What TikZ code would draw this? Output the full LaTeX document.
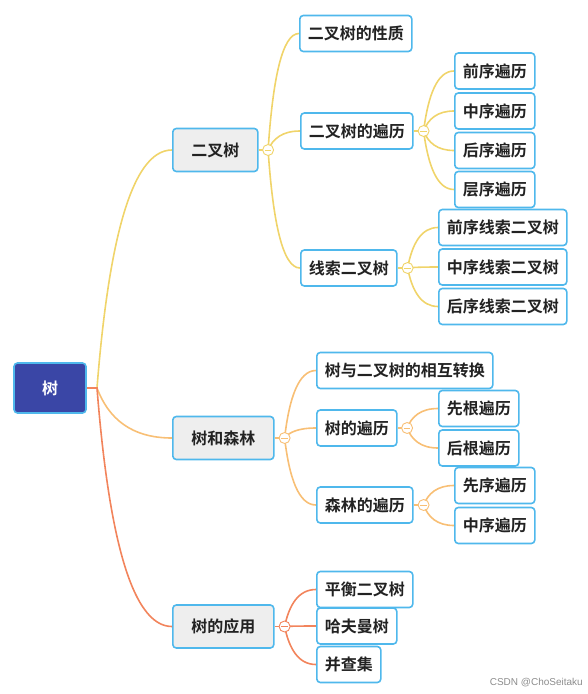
\documentclass[tikz,border=0pt]{standalone}
\usepackage{fontspec}
\setmainfont{Noto Sans CJK SC}[BoldFont={Noto Sans CJK SC Bold}]
\newfontfamily\wmfont{Liberation Sans}
\usetikzlibrary{calc,backgrounds}
\definecolor{bord}{HTML}{4FB8EC}
\definecolor{rootfill}{HTML}{3A46A6}
\definecolor{lvone}{HTML}{EEEEEE}
\definecolor{cyel}{HTML}{F0D46A}
\definecolor{cora}{HTML}{F8BF75}
\definecolor{cred}{HTML}{F2845C}
\definecolor{txt}{HTML}{222222}
\tikzset{
 box/.style={draw=bord, line width=1.6pt, rounded corners=3.5pt, fill=white,
   font=\fontsize{16}{18}\selectfont\bfseries, inner xsep=8pt, inner ysep=0pt,
   minimum height=36pt, anchor=west, text=txt},
 lone/.style={box, fill=lvone, inner xsep=18.5pt, minimum height=43pt},
 rootbox/.style={box, fill=rootfill, text=white, minimum width=72pt, minimum height=50pt, anchor=center},
 branch/.style={to path={let \p1=(\tikztostart), \p2=(\tikztotarget) in
   .. controls ({\x1+0.15*(\x2-\x1)},{\y1+0.6*(\y2-\y1)}) and ({\x1+0.45*(\x2-\x1)},{\y2}) .. (\tikztotarget)}},
 conn/.style={line width=1.6pt},
 fold/.style={circle, draw=#1, fill=white, line width=0.9pt, minimum size=11pt, inner sep=0pt,
   path picture={\draw[#1, line width=0.7pt] ([xshift=-3.2pt]path picture bounding box.center) -- ([xshift=3.2pt]path picture bounding box.center);}}
}
\begin{document}
\begin{tikzpicture}[x=1pt,y=-1pt]
\useasboundingbox (0,0) rectangle (587,694);
% root
\node[rootbox] (root) at (50,388) {树};
\coordinate (j) at (97,388);
% level 1
\node[lone] (bt) at (172,150) {二叉树};
\node[lone] (sl) at (172,438) {树和森林};
\node[lone] (yy) at (172,626.5) {树的应用};
\node[fold=cyel] (cbt) at ($(bt.east)+(9.5,0)$) {};
\node[fold=cora] (csl) at ($(sl.east)+(10,0)$) {};
\node[fold=cred] (cyy) at ($(yy.east)+(10,0)$) {};
% level 2 under 二叉树
\node[box] (xz) at (299,33.5) {二叉树的性质};
\node[box] (bl) at (300,131) {二叉树的遍历};
\node[box] (xs) at (300,268) {线索二叉树};
\node[fold=cyel] (cbl) at ($(bl.east)+(10,0)$) {};
\node[fold=cyel] (cxs) at ($(xs.east)+(10,0)$) {};
% level 3
\node[box] (qx) at (454,71) {前序遍历};
\node[box] (zx) at (454,111) {中序遍历};
\node[box] (hx) at (454,150.5) {后序遍历};
\node[box] (cx) at (454,189.5) {层序遍历};
\node[box] (qxs) at (438,227.5) {前序线索二叉树};
\node[box] (zxs) at (438,267) {中序线索二叉树};
\node[box] (hxs) at (438,306.5) {后序线索二叉树};
% 树和森林
\node[box] (zh) at (316,370.5) {树与二叉树的相互转换};
\node[box] (sbl) at (316,428) {树的遍历};
\node[box] (slbl) at (316,505) {森林的遍历};
\node[fold=cora] (csbl) at ($(sbl.east)+(9.5,0)$) {};
\node[fold=cora] (cslbl) at ($(slbl.east)+(10,0)$) {};
\node[box] (xg) at (438,408.5) {先根遍历};
\node[box] (hg) at (438,448) {后根遍历};
\node[box] (xx) at (454,485.5) {先序遍历};
\node[box] (zxb) at (454,525.5) {中序遍历};
% 树的应用
\node[box] (ph) at (316,589.5) {平衡二叉树};
\node[box] (hf) at (316,626) {哈夫曼树};
\node[box] (bc) at (316,664.5) {并查集};
% watermark
\node[anchor=east, font=\wmfont\fontsize{10}{12}\selectfont, text=black!45, inner sep=0pt] (wm) at (583,683) {CSDN @ChoSeitaku};
\begin{scope}[on background layer]
\draw[conn, cyel] (root.east) -- (j) to[branch] (bt.west);
\draw[conn, cora] (root.east) -- (j) to[branch] (sl.west);
\draw[conn, cred] (root.east) -- (j) to[branch] (yy.west);
% 二叉树
\draw[conn, cyel] (bt.east) -- (cbt.center);
\draw[conn, cyel] (cbt.center) to[branch] (xz.west);
\draw[conn, cyel] (cbt.center) to[branch] (bl.west);
\draw[conn, cyel] (cbt.center) to[branch] (xs.west);
\draw[conn, cyel] (bl.east) -- (cbl.center);
\draw[conn, cyel] (cbl.center) to[branch] (qx.west);
\draw[conn, cyel] (cbl.center) to[branch] (zx.west);
\draw[conn, cyel] (cbl.center) to[branch] (hx.west);
\draw[conn, cyel] (cbl.center) to[branch] (cx.west);
\draw[conn, cyel] (xs.east) -- (cxs.center);
\draw[conn, cyel] (cxs.center) to[branch] (qxs.west);
\draw[conn, cyel] (cxs.center) to[branch] (zxs.west);
\draw[conn, cyel] (cxs.center) to[branch] (hxs.west);
% 树和森林
\draw[conn, cora] (sl.east) -- (csl.center);
\draw[conn, cora] (csl.center) to[branch] (zh.west);
\draw[conn, cora] (csl.center) to[branch] (sbl.west);
\draw[conn, cora] (csl.center) to[branch] (slbl.west);
\draw[conn, cora] (sbl.east) -- (csbl.center);
\draw[conn, cora] (csbl.center) to[branch] (xg.west);
\draw[conn, cora] (csbl.center) to[branch] (hg.west);
\draw[conn, cora] (slbl.east) -- (cslbl.center);
\draw[conn, cora] (cslbl.center) to[branch] (xx.west);
\draw[conn, cora] (cslbl.center) to[branch] (zxb.west);
% 树的应用
\draw[conn, cred] (yy.east) -- (cyy.center);
\draw[conn, cred] (cyy.center) to[branch] (ph.west);
\draw[conn, cred] (cyy.center) to[branch] (hf.west);
\draw[conn, cred] (cyy.center) to[branch] (bc.west);
\end{scope}
\end{tikzpicture}
\end{document}
